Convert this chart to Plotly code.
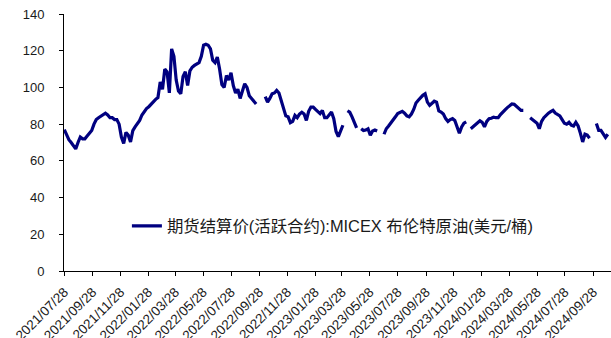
import pandas as pd
import plotly.graph_objects as go

# MICEX Brent futures settlement price (USD/bbl), sampled every 5 days from 2021-07-28
start_date = "2021-07-28"
step = "5D"
price = [
    77, 74, 71.5, 70, 68, 66.5, 70, 73, 72, 72,
    73.5, 75, 76.5, 80, 82.5, 83.5, 84.5, 85.2, 86, 85,
    83.5, 83.5, 82.5, 82.5, 80, 73, 69.5, 75.5, 74, 70.3,
    76.5, 78.5, 80.5, 82, 85, 86.8, 88.5, 89.5, 91, 92,
    93.5, 94.5, 103, 99, 110, 108.5, 97, 121, 117, 104,
    98, 96.5, 106, 108.5, 101, 109, 111, 112, 113, 113.5,
    117, 123, 123.5, 123, 121, 114.8, 113.5, 116.5, 110, 101.5,
    100, 106.5, 104, 108, 101, 97, 99, 94, 98, 102,
    100, 95.5, 94, 92.5, 91, None, None, None, 95, 92,
    94, 96.5, 97, 98.4, 97, 93, 88, 84.5, 84, 80.8,
    81.5, 84.8, 83.5, 85.5, 86.5, 85.5, 82, 87, 89.3, 89.3,
    88, 86.8, 85.7, 87.5, 83.5, 83.5, 84.8, 86.6, 83, 76,
    73.2, 76.8, 79.4, None, 87.3, 86.5, 84, 80.5, 78, None,
    77.5, 76.5, 76.8, 77.5, 73.9, 76.3, 76.8, 76.3, None, None,
    74.5, 77.5, 79, 80.5, 82, 84, 85.8, 86.6, 87, 86,
    84.5, 84, 85.5, 88, 91.5, 93, 94.5, 95.7, 96.5, 92,
    90.2, 91.5, 92.5, 92, 87.2, 86.6, 85.5, 83, 81.5, 82.5,
    83, 82, 78, 75, 78.5, 80.5, 81.2, None, 77.5, 78.5,
    79.8, 81, 81.8, 81, 78.5, 81.5, 83, 83.2, 83.8, 83.5,
    83.5, 85.2, 86.8, 87.8, 89, 90, 91, 90.8, 89.8, 88.5,
    87.5, 87.5, None, None, 83.5, 82.5, 82, 80.5, 77.5, 81.5,
    83.5, 85, 86, 86.8, 87.5, 86, 85.2, 84.5, 82.5, 80.5,
    80, 81, 79.5, 79, 81, 79, 75, 70.3, 74.5, 74,
    72.3, None, None, 80.3, 76.6, 76.6, 74.8, 72.8, 74.5,
]
dates = pd.date_range(start_date, periods=len(price), freq=step)

tick_labels = [
    "2021/07/28", "2021/09/28", "2021/11/28", "2022/01/28", "2022/03/28",
    "2022/05/28", "2022/07/28", "2022/09/28", "2022/11/28", "2023/01/28",
    "2023/03/28", "2023/05/28", "2023/07/28", "2023/09/28", "2023/11/28",
    "2024/01/28", "2024/03/28", "2024/05/28", "2024/07/28", "2024/09/28",
]
tick_vals = pd.to_datetime(tick_labels, format="%Y/%m/%d")
series_name = "期货结算价(活跃合约):MICEX 布伦特原油(美元/桶)"

fig = go.Figure()
fig.add_trace(go.Scatter(
    x=dates, y=price, mode="lines", name=series_name,
    line=dict(color="#000080", width=3.2), connectgaps=False,
))

fig.update_layout(
    width=611, height=338,
    margin=dict(l=64, r=0, t=14, b=67, autoexpand=False),
    paper_bgcolor="white", plot_bgcolor="white",
    font=dict(family="Liberation Sans, Arial, sans-serif", size=13, color="#1a1a1a"),
    showlegend=True,
    legend=dict(
        x=0.115, y=0.174, xanchor="left", yanchor="middle",
        bgcolor="rgba(0,0,0,0)",
        font=dict(family="Liberation Sans, Noto Sans CJK SC, sans-serif", size=16.4, color="#1a1a1a"),
    ),
    xaxis=dict(
        type="date", automargin=False,
        range=["2021-07-27 08:00", "2024-11-06"],
        tickvals=tick_vals, ticktext=tick_labels, tickangle=-45,
        showline=True, linecolor="#000", linewidth=1,
        ticks="outside", ticklen=4, tickcolor="#000",
        showgrid=False, zeroline=False,
        ticklabelstandoff=3,
        tickfont=dict(size=13.5),
    ),
    yaxis=dict(
        automargin=False,
        range=[0, 140], tickvals=[0, 20, 40, 60, 80, 100, 120, 140],
        showline=True, linecolor="#000", linewidth=1,
        ticks="outside", ticklen=4, tickcolor="#000",
        showgrid=False, zeroline=False,
        ticklabelstandoff=12,
        tickfont=dict(size=13),
    ),
)

fig.write_html("out.html")
